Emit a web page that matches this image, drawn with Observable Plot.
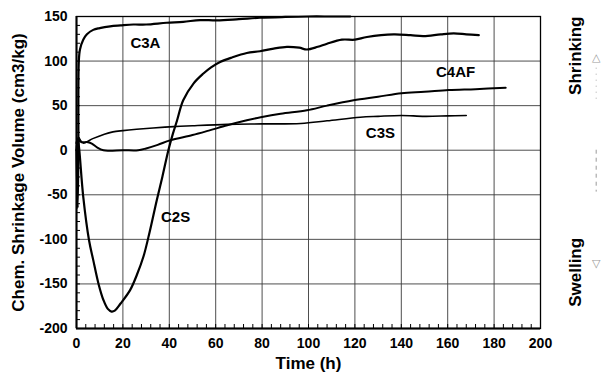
<!DOCTYPE html>
<html><head><meta charset="utf-8">
<script src="https://cdn.jsdelivr.net/npm/d3@7"></script>
<script src="https://cdn.jsdelivr.net/npm/@observablehq/plot@0.6"></script>
<style>body{margin:0;background:#fff} svg{display:block}</style>
</head><body><div id="chart"></div>
<script>
// Time (h) and chemical shrinkage volume (cm3/kg)
const c3aT = [0, 0.5, 0.8, 1.0, 1.5, 2.9, 4.5, 7.2, 10, 14.5, 19, 24.5, 30, 38.9, 46, 53.3, 60.5, 70, 79.1, 90, 100, 110, 118];
const c3aV = [0, -65, 0, 100, 113, 124, 130, 135, 137, 139, 140, 141, 141, 143, 144, 146, 145.6, 147, 148.6, 149.5, 150, 150, 150];

const c2sT = [0, 0.5, 1, 2.9, 5.4, 7.2, 9.5, 11.6, 13.5, 15.1, 16.5, 19, 23.1, 26, 28.9, 31.5, 34.6, 37, 39.6, 41.5, 43.3, 46, 50.5, 54.7, 58, 61.9, 67, 73.4, 79.1, 85, 90.7, 96, 99.3, 104, 108, 114.4, 120, 125.2, 136.7, 144, 149.6, 157, 162.6, 168, 173.4];
const c2sV = [8, 12, 5, -52, -101, -123, -150, -168, -178, -181, -180, -172, -157, -140, -119, -92, -56, -30, 0, 18, 33, 56, 75, 86, 93, 99, 104, 109, 111, 114, 116, 115, 113, 116, 119.5, 124, 124, 127, 130, 129, 128, 130, 131, 130, 129];

const c4afT = [0, 0.3, 0.6, 1, 2, 3, 5, 6.6, 9, 11.6, 14, 20, 26.6, 30, 35, 40.3, 50, 57, 65, 73.4, 79.4, 88, 99.3, 108, 119.4, 130, 140.1, 150, 160.4, 172, 185];
const c4afV = [0, 12, -3, 14, 9, 9, 9, 7.5, 3, 0, -0.5, 0, 0, 2, 6, 11, 17, 22, 28, 33.6, 37, 41, 44.8, 50, 56, 60, 64, 65.5, 67.5, 68.5, 70];

const c3sT = [0, 0.3, 0.7, 1.2, 2.9, 7, 12, 15.7, 20, 25.9, 33, 41.8, 50, 65, 80, 96.7, 108, 122.3, 130, 140, 150, 160, 168];
const c3sV = [0, 14, -5, 12, 8, 13, 18, 20.6, 22, 23.5, 25, 26.5, 27.5, 29, 29.5, 30, 33, 37, 38, 39, 38, 38.5, 39];

// curve labels
const labelNames = ["C3A", "C2S", "C4AF", "C3S"];
const labelT = [29.7, 42.7, 163.4, 131];
const labelV = [119.7, -75.5, 87.7, 18.7];

// axes
const xTicks = d3.range(0, 201, 20);
const yTicks = d3.range(-200, 151, 50);
const xMinor = d3.range(0, 201, 4);
const yMinor = d3.range(-200, 151, 10);
const xTitle = "Time (h)";
const yTitle = "Chem. Shrinkage Volume (cm3/kg)";

// right-hand annotations
const sideNames = ["Shrinking", "Swelling"];
const sideT = [215, 215];
const sideV = [106, -137];
const arrowGlyphs = ["△", "▽"];
const arrowT = [224, 224];
const arrowV = [104, -127];

const toRows = (T, V) => T.map((t, i) => ({t, v: V[i]}));
const plain = d => `${d}`;

const lineStyle = {x: "t", y: "v", stroke: "#000", curve: "catmull-rom", strokeLinejoin: "round"};

const chart = Plot.plot({
  width: 602, height: 380,
  marginLeft: 76, marginRight: 62, marginTop: 16, marginBottom: 52,
  style: {fontFamily: "'Liberation Sans', Arial, sans-serif", fontWeight: "bold", fontSize: "14px", color: "#000", background: "#fff"},
  x: {domain: [0, 200]},
  y: {domain: [-200, 150]},
  marks: [
    Plot.gridX(xTicks.slice(1, -1), {stroke: "#3a3a3a", strokeOpacity: 1, strokeWidth: 0.9}),
    Plot.gridY(yTicks.slice(1, -1), {stroke: "#3a3a3a", strokeOpacity: 1, strokeWidth: 0.9}),
    Plot.axisX(xMinor, {tickSize: -4, tickFormat: () => "", label: null, strokeWidth: 1}),
    Plot.axisY(yMinor, {tickSize: -4, tickFormat: () => "", label: null, strokeWidth: 1}),
    Plot.axisX(xTicks, {tickSize: 0, tickPadding: 10, tickFormat: plain, label: null, fontSize: 14, fontWeight: "bold"}),
    Plot.axisY(yTicks, {tickSize: 0, tickPadding: 9, tickFormat: plain, label: null, fontSize: 14, fontWeight: "bold"}),
    Plot.frame({stroke: "#000", strokeWidth: 1.3}),
    Plot.ruleX([0], {stroke: "#000", strokeWidth: 2}),
    Plot.ruleY([-200], {stroke: "#000", strokeWidth: 2}),
    Plot.line(toRows(c3aT, c3aV), {...lineStyle, strokeWidth: 2.2}),
    Plot.line(toRows(c2sT, c2sV), {...lineStyle, strokeWidth: 2.2}),
    Plot.line(toRows(c4afT, c4afV), {...lineStyle, strokeWidth: 2}),
    Plot.line(toRows(c3sT, c3sV), {...lineStyle, strokeWidth: 1.6}),
    Plot.text(labelNames, {x: labelT, y: labelV, fontSize: 15, fontWeight: "bold", fill: "#000"}),
    Plot.text([yTitle], {frameAnchor: "left", textAnchor: "middle", dx: -58, rotate: -90, fontSize: 17, fontWeight: "bold", fill: "#000"}),
    Plot.text([xTitle], {frameAnchor: "bottom", dy: 40, fontSize: 17, fontWeight: "bold", fill: "#000"}),
    Plot.text(sideNames, {x: sideT, y: sideV, rotate: -90, fontSize: 17, fontWeight: "bold", fill: "#000"}),
    Plot.text(arrowGlyphs, {x: arrowT, y: arrowV, fontSize: 11, fill: "#999", fontFamily: "DejaVu Sans"}),
    Plot.ruleX([224], {y1: 92, y2: 56, stroke: "#aaa", strokeDasharray: "1,5"}),
    Plot.ruleX([224], {y1: 0, y2: -47, stroke: "#999", strokeDasharray: "4,4"})
  ]
});
document.getElementById("chart").appendChild(chart);
</script>
</body></html>
